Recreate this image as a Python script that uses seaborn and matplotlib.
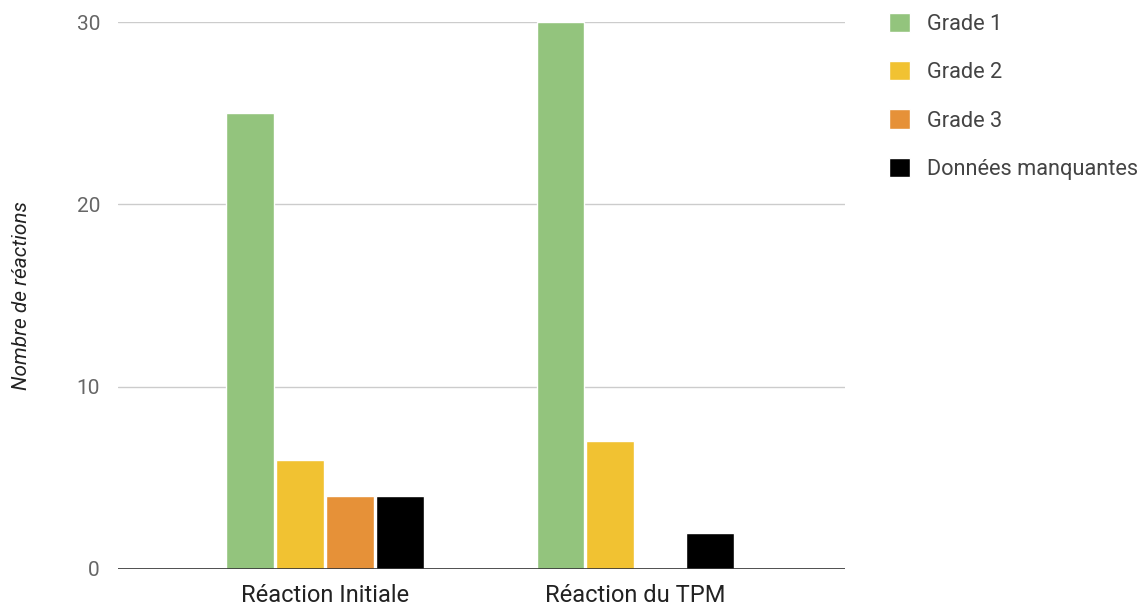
import matplotlib
matplotlib.use("Agg")
import matplotlib.pyplot as plt
import seaborn as sns
import pandas as pd

categories = ["Réaction Initiale", "Réaction du TPM"]
series = ["Grade 1", "Grade 2", "Grade 3", "Données manquantes"]
grade1 = [25, 30]
grade2 = [6, 7]
grade3 = [4, 0]
missing = [4, 2]
colors = ["#93c47d", "#f1c232", "#e69138", "#000000"]
y_ticks = [0, 10, 20, 30]

rows = []
for name, vals in zip(series, [grade1, grade2, grade3, missing]):
    for cat, v in zip(categories, vals):
        rows.append({"cat": cat, "serie": name, "val": v})
df = pd.DataFrame(rows)

sns.set_theme(style="white")
plt.rcParams["font.family"] = ["Roboto", "DejaVu Sans"]

fig = plt.figure(figsize=(11.44, 6.07), dpi=100)
ax = fig.add_axes([118 / 1144, 1 - 569 / 607, (845 - 118) / 1144, (569 - 22) / 607])

sns.barplot(data=df, x="cat", y="val", hue="serie", order=categories,
            hue_order=series, palette=colors, width=0.644, gap=0.04,
            saturation=1, ax=ax, zorder=3)

ax.set_xlim(-0.667, 1.675)
ax.set_ylim(0, 30)
ax.set_yticks(y_ticks)
ax.yaxis.grid(True, color="#cccccc", linewidth=1, zorder=0)
ax.axhline(0, color="#333333", linewidth=1.2, zorder=4)
for s in ax.spines.values():
    s.set_visible(False)
ax.tick_params(axis="y", length=0, pad=13, labelsize=15, labelcolor="#666666")
ax.tick_params(axis="x", length=0, pad=11, labelsize=17, labelcolor="#222222")
ax.set_xlabel("")
ax.set_ylabel("")
fig.text(22 / 1144, 1 - 296 / 607, "Nombre de réactions", rotation=90,
         style="italic", fontsize=15, color="#222222", ha="center", va="center")

handles, labels = ax.get_legend_handles_labels()
ax.legend(handles, labels, loc="upper left",
          bbox_to_anchor=(882 / 1144, 1 - 6 / 607), bbox_transform=fig.transFigure,
          frameon=False, fontsize=15.7, labelcolor="#444444",
          handlelength=1.0, handleheight=1.0, handletextpad=0.78,
          labelspacing=1.2, borderaxespad=0, borderpad=0.3)

fig.savefig("out.png", dpi=100)
